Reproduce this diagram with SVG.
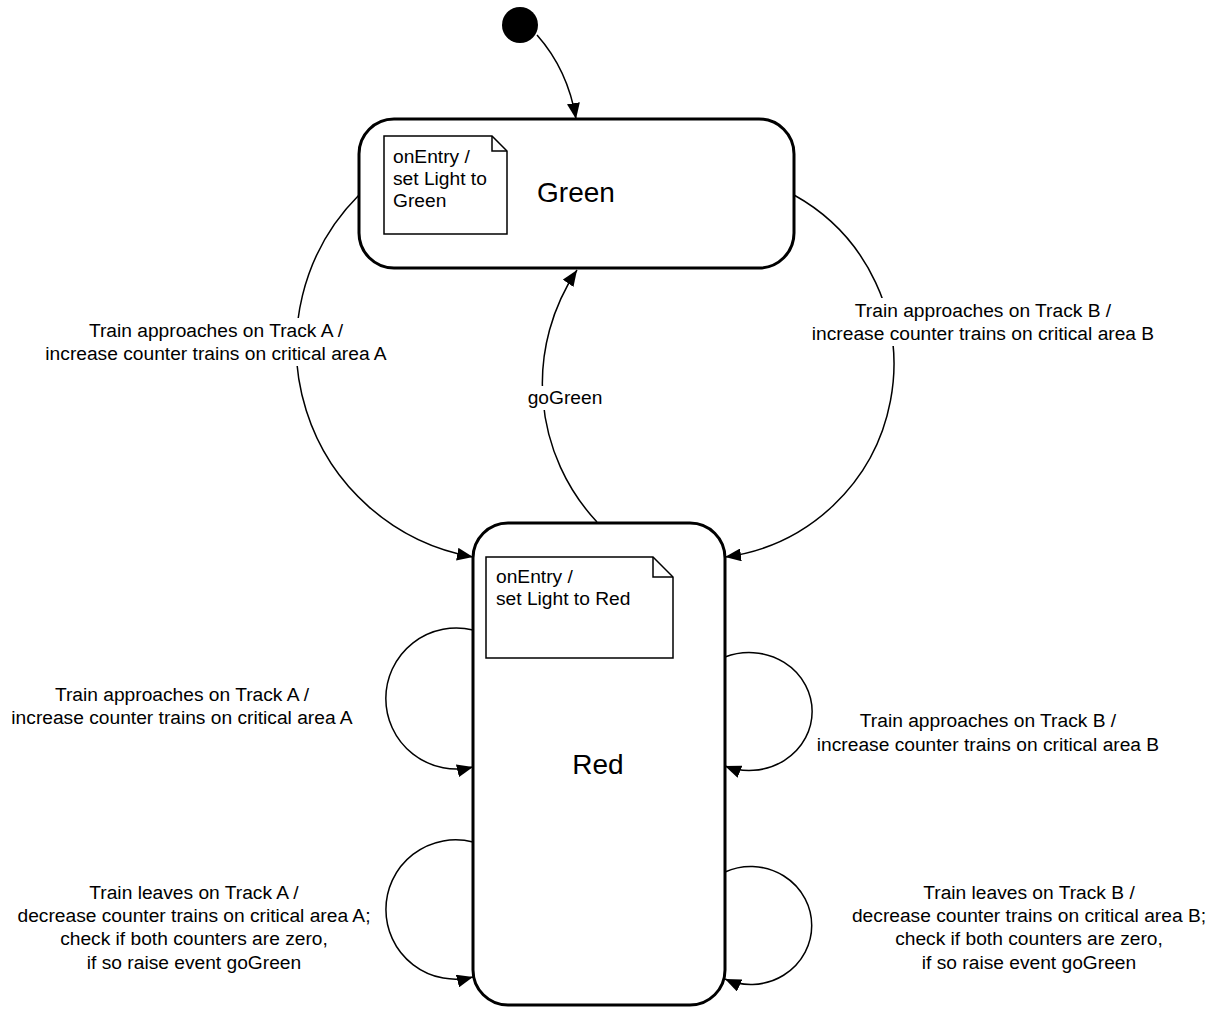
<svg xmlns="http://www.w3.org/2000/svg" width="1220" height="1010" viewBox="0 0 1220 1010">
<style>
.state{fill:#fff;stroke:#000;stroke-width:3}
.note{fill:#fff;stroke:#000;stroke-width:1.5}
.fold{fill:none;stroke:#000;stroke-width:1.5}
.edge{fill:none;stroke:#000;stroke-width:1.5;marker-end:url(#arr)}
.t{font-family:"Liberation Sans",Arial,sans-serif;font-size:19.2px;fill:#000}
.lbl{text-anchor:middle}
.big{font-family:"Liberation Sans",Arial,sans-serif;font-size:28px;fill:#000;text-anchor:middle}
.bg{fill:#fff;stroke:none}
</style>
<defs>
<marker id="arr" markerUnits="userSpaceOnUse" markerWidth="17" markerHeight="13" refX="16" refY="6.5" orient="auto" viewBox="0 0 17 13">
<path d="M0,0 L16,6.5 L0,13 z" fill="#000"/>
</marker>
</defs>
<rect width="1220" height="1010" fill="#fff"/>
<g id="initial">
<circle cx="520" cy="25" r="18" fill="#000"/>
</g>
<g id="green">
<rect class="state" x="359" y="119" width="435" height="149" rx="35" ry="35"/>
<path class="note" d="M384,136 H492 L507,151 V234 H384 Z"/>
<path class="fold" d="M492,136 V151 H507"/>
<text class="t" x="393" y="163">onEntry /</text>
<text class="t" x="393" y="185">set Light to</text>
<text class="t" x="393" y="207">Green</text>
<text class="big" x="576" y="202">Green</text>
</g>
<g id="red">
<rect class="state" x="473" y="523" width="252" height="482" rx="35" ry="35"/>
<path class="note" d="M486,557 H653 L673,577 V658 H486 Z"/>
<path class="fold" d="M653,557 V577 H673"/>
<text class="t" x="496" y="583">onEntry /</text>
<text class="t" x="496" y="605">set Light to Red</text>
<text class="big" x="598" y="774">Red</text>
</g>
<g id="connectors">
<path class="edge" d="M537,35 Q568,70 576,119"/>
<path class="edge" d="M359,195 A214,214 0 0 0 473,557"/>
<path class="edge" d="M794,195 A194,194 0 0 1 725,557"/>
<path class="edge" d="M597,522 A203,203 0 0 1 577,270"/>
<path class="edge" d="M473,630 A70.5,70.5 0 1 0 473,767"/>
<path class="edge" d="M725,657 A63,59 0 1 1 725,766"/>
<path class="edge" d="M473,842 A69.7,69.7 0 1 0 473,977"/>
<path class="edge" d="M725,872 A61,59 0 1 1 725,979"/>
</g>
<g id="labels">
<rect class="bg" x="42" y="318" width="348" height="48"/>
<text class="t lbl" x="216" y="337">Train approaches on Track A /</text>
<text class="t lbl" x="216" y="360">increase counter trains on critical area A</text>
<rect class="bg" x="809" y="298" width="348" height="48"/>
<text class="t lbl" x="983" y="317">Train approaches on Track B /</text>
<text class="t lbl" x="983" y="340">increase counter trains on critical area B</text>
<rect class="bg" x="526" y="386" width="78" height="24"/>
<text class="t lbl" x="565" y="404">goGreen</text>
<text class="t lbl" x="182" y="701">Train approaches on Track A /</text>
<text class="t lbl" x="182" y="724">increase counter trains on critical area A</text>
<text class="t lbl" x="988" y="727">Train approaches on Track B /</text>
<text class="t lbl" x="988" y="751">increase counter trains on critical area B</text>
<text class="t lbl" x="194" y="899">Train leaves on Track A /</text>
<text class="t lbl" x="194" y="922">decrease counter trains on critical area A;</text>
<text class="t lbl" x="194" y="945">check if both counters are zero,</text>
<text class="t lbl" x="194" y="969">if so raise event goGreen</text>
<text class="t lbl" x="1029" y="899">Train leaves on Track B /</text>
<text class="t lbl" x="1029" y="922">decrease counter trains on critical area B;</text>
<text class="t lbl" x="1029" y="945">check if both counters are zero,</text>
<text class="t lbl" x="1029" y="969">if so raise event goGreen</text>
</g>
</svg>
